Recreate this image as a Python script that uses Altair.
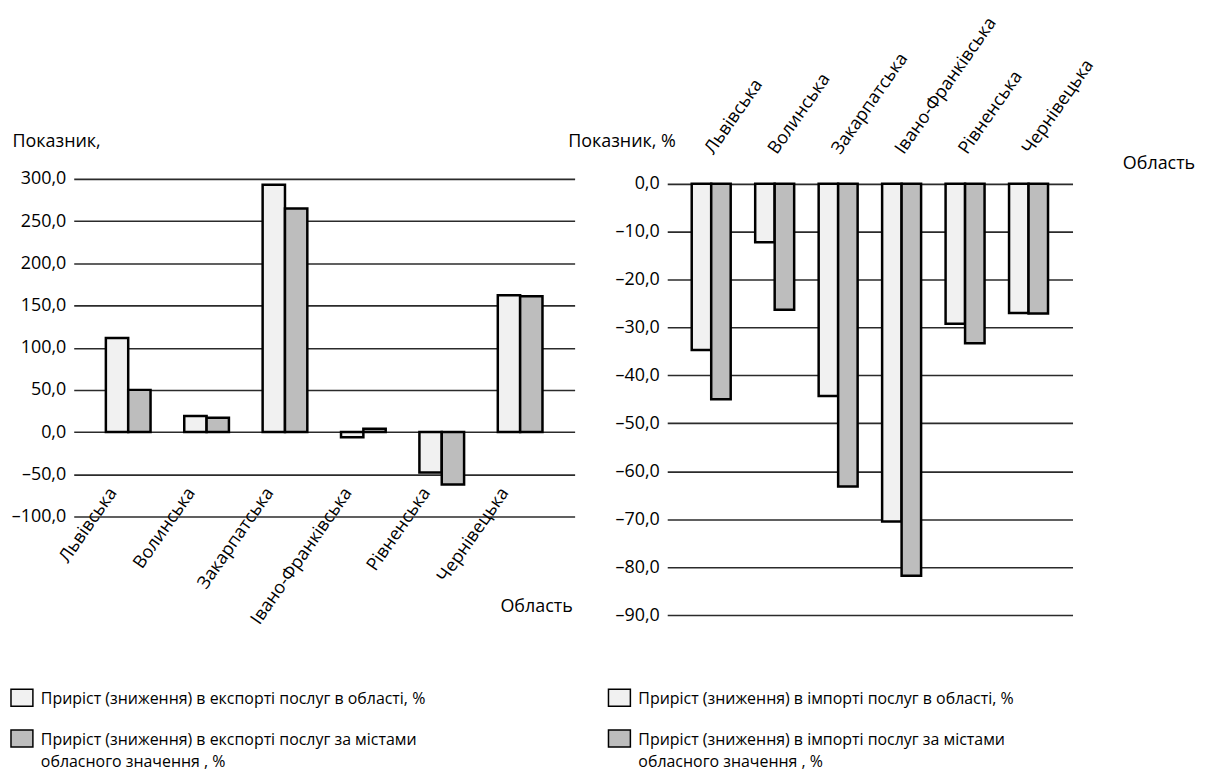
import altair as alt
import pandas as pd

regions = ["Львівська", "Волинська", "Закарпатська", "Івано-Франківська", "Рівненська", "Чернівецька"]

export_region = [111.5, 19.0, 293.0, -6.0, -48.0, 162.0]
export_city = [50.0, 17.0, 265.0, 4.0, -62.0, 161.0]

import_region = [-34.7, -12.2, -44.3, -70.5, -29.2, -27.0]
import_city = [-45.0, -26.3, -63.2, -81.8, -33.3, -27.1]

exp_series = ["Приріст (зниження) в експорті послуг в області, %",
              "Приріст (зниження) в експорті послуг за містами\nобласного значення , %"]
imp_series = ["Приріст (зниження) в імпорті послуг в області, %",
              "Приріст (зниження) в імпорті послуг за містами\nобласного значення , %"]

left_ticks = [-100, -50, 0, 50, 100, 150, 200, 250, 300]
right_ticks = [0, -10, -20, -30, -40, -50, -60, -70, -80, -90]

FONT = "Open Sans"
fills = ["#f1f1f1", "#bdbdbd"]

df_exp = pd.DataFrame(
    [{"region": r, "series": exp_series[0], "value": v} for r, v in zip(regions, export_region)]
    + [{"region": r, "series": exp_series[1], "value": v} for r, v in zip(regions, export_city)]
)
df_imp = pd.DataFrame(
    [{"region": r, "series": imp_series[0], "value": v} for r, v in zip(regions, import_region)]
    + [{"region": r, "series": imp_series[1], "value": v} for r, v in zip(regions, import_city)]
)

num_fmt = "(datum.value < 0 ? '–' : '') + replace(format(abs(datum.value), '.1f'), '.', ',')"

# rectangular legend symbol, shifted down so it sits beside the first label line
SYMBOL = "M-1,-0.14 L1,-0.14 L1,1.41 L-1,1.41 Z"


def legend(lx):
    return alt.Legend(
        title=None, orient="none", legendX=lx, legendY=502, padding=0,
        symbolType=SYMBOL, symbolSize=484, symbolStrokeColor="black",
        symbolStrokeWidth=1.5, labelFontSize=16, labelFont=FONT, labelColor="black",
        labelLimit=0, labelExpr="split(datum.label, '\\n')", rowPadding=10,
        labelBaseline="top", labelOffset=7,
    )


left = alt.Chart(df_exp).mark_bar(stroke="black", strokeWidth=2.5).encode(
    x=alt.X("region:N", sort=regions,
            scale=alt.Scale(paddingInner=0.43, paddingOuter=0.41),
            axis=alt.Axis(title="Область", orient="bottom", labelAngle=-55, labelAlign="right",
                          labelBaseline="middle", labelPadding=-27, labelOffset=-15,
                          ticks=False, domain=False,
                          labelOverlap=False, titleX=428, titleY=95, titleAlign="left",
                          titleBaseline="alphabetic", titleAnchor="start")),
    xOffset=alt.XOffset("series:N", sort=exp_series,
                        scale=alt.Scale(paddingInner=0, paddingOuter=0)),
    y=alt.Y("value:Q", scale=alt.Scale(domain=[-100, 300], nice=False, zero=False),
            axis=alt.Axis(values=left_ticks, labelExpr=num_fmt, grid=True, ticks=False, domain=False,
                          title="Показник,", titleAngle=0, titleAlign="left", titleBaseline="alphabetic",
                          titleX=-62, titleY=-33, labelPadding=8)),
    color=alt.Color("series:N", sort=exp_series,
                    scale=alt.Scale(domain=exp_series, range=fills), legend=legend(-64)),
).properties(width=503, height=339)

right = alt.Chart(df_imp).mark_bar(stroke="black", strokeWidth=2.5).encode(
    x=alt.X("region:N", sort=regions,
            scale=alt.Scale(paddingInner=0.386, paddingOuter=0.386),
            axis=alt.Axis(title="Область", orient="top", labelAngle=-55, labelAlign="left",
                          labelBaseline="middle", labelPadding=27, labelOffset=-2,
                          ticks=False, domain=False,
                          labelOverlap=False, titleX=457, titleY=-10, titleAlign="left",
                          titleBaseline="alphabetic", titleAnchor="start")),
    xOffset=alt.XOffset("series:N", sort=imp_series,
                        scale=alt.Scale(paddingInner=0, paddingOuter=0)),
    y=alt.Y("value:Q", scale=alt.Scale(domain=[-90, 1], nice=False, zero=False),
            axis=alt.Axis(values=right_ticks, labelExpr=num_fmt, grid=True, ticks=False, domain=False,
                          title="Показник, %", titleAngle=0, titleAlign="left", titleBaseline="alphabetic",
                          titleX=-100, titleY=-33, labelPadding=8)),
    color=alt.Color("series:N", sort=imp_series,
                    scale=alt.Scale(domain=imp_series, range=fills), legend=legend(-60)),
).properties(width=407, height=438)

chart = alt.hconcat(left, right, spacing=93, bounds="flush").resolve_scale(
    color="independent", x="independent", y="independent", xOffset="independent"
).resolve_legend(color="independent").properties(
    padding={"left": 2, "top": 4, "right": 2, "bottom": 0}
).configure(
    style={"guide-label": {"lineHeight": 23}}
).configure_view(strokeWidth=0).configure_axis(
    labelFont=FONT, titleFont=FONT, labelFontSize=18, titleFontSize=18,
    labelColor="black", titleColor="black", titleFontWeight="normal",
    gridColor="#2b2b2b", gridWidth=1.6, gridOpacity=1,
)

chart.save("out.html", embed_options={"renderer": "svg", "actions": False})
